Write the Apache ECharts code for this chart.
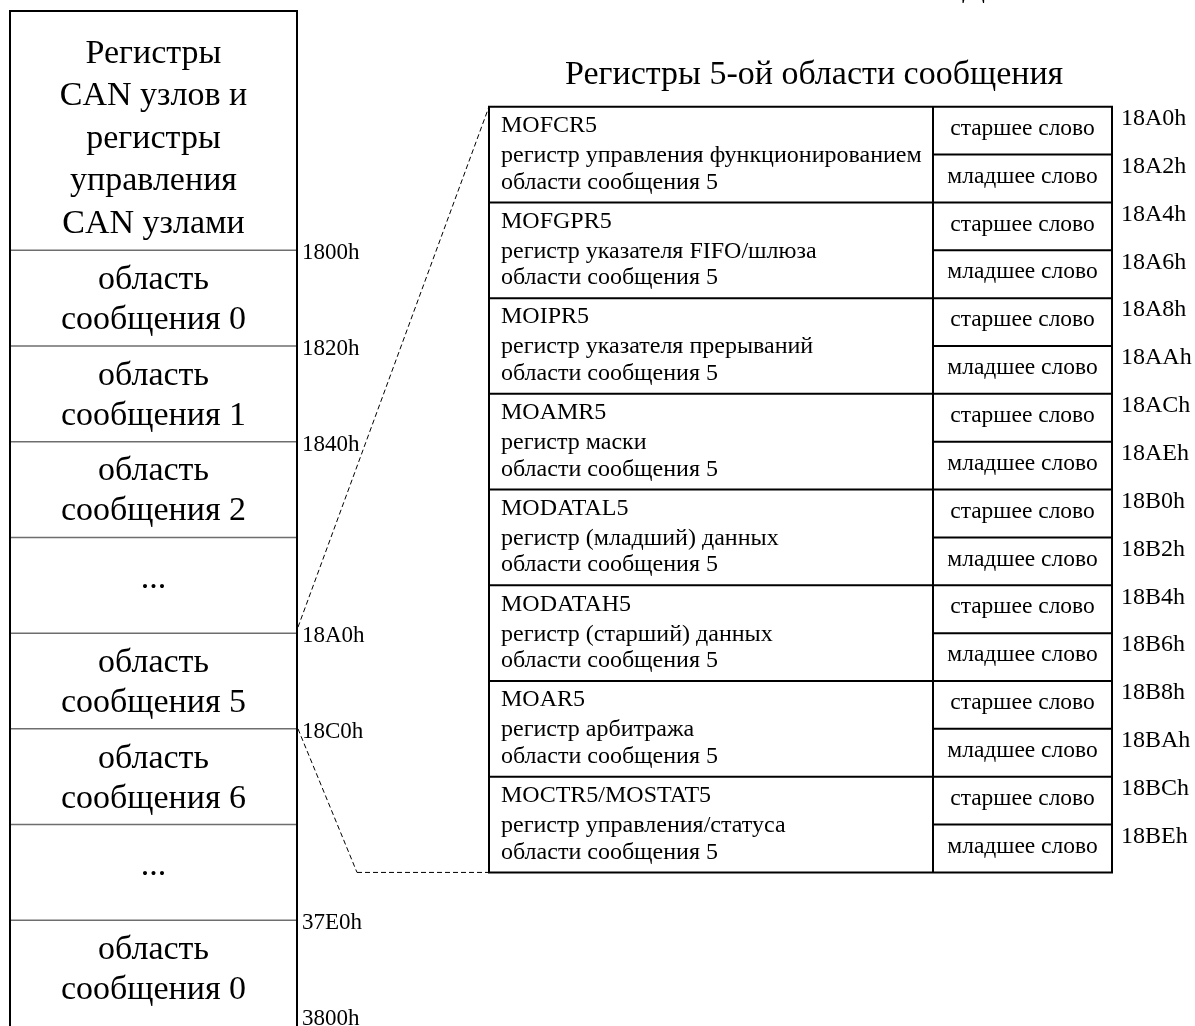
<!DOCTYPE html>
<html>
<head>
<meta charset="utf-8">
<script src="https://cdn.jsdelivr.net/npm/echarts@6/dist/echarts.min.js"></script>
<style>
html,body{margin:0;padding:0;background:#ffffff;}
#chart{width:1195px;height:1026px;}
</style>
</head>
<body>
<div id="chart"></div>
<script>
// ---------------- data ----------------
const titleText = 'Регистры 5-ой области сообщения';
const cutOffText = ['Д'];
const leftBlockLabels = [
  'Регистры\nCAN узлов и\nрегистры\nуправления\nCAN узлами',
  'область\nсообщения 0',
  'область\nсообщения 1',
  'область\nсообщения 2',
  '...',
  'область\nсообщения 5',
  'область\nсообщения 6',
  '...',
  'область\nсообщения 0'
];
const leftAddresses = ['1800h', '1820h', '1840h', '', '18A0h', '18C0h', '', '37E0h', '3800h'];
const registerNames = ['MOFCR5', 'MOFGPR5', 'MOIPR5', 'MOAMR5', 'MODATAL5', 'MODATAH5', 'MOAR5', 'MOCTR5/MOSTAT5'];
const registerDescriptions = [
  'регистр управления функционированием',
  'регистр указателя FIFO/шлюза',
  'регистр указателя прерываний',
  'регистр маски',
  'регистр (младший) данных',
  'регистр (старший) данных',
  'регистр арбитража',
  'регистр управления/статуса'
];
const registerArea = 'области сообщения 5';
const wordLabels = ['старшее слово', 'младшее слово'];
const rightAddresses = ['18A0h', '18A2h', '18A4h', '18A6h', '18A8h', '18AAh', '18ACh', '18AEh',
                        '18B0h', '18B2h', '18B4h', '18B6h', '18B8h', '18BAh', '18BCh', '18BEh'];
const zoomedAddress = '18A0h';
const zoomedEndAddress = '18C0h';

// ---------------- layout / style ----------------
const FONT = '"Liberation Serif", "Times New Roman", serif';
const L = {
  leftX0: 10, leftX1: 297,
  tabX0: 489, tabDiv: 933, tabX1: 1112,
  headerRows: 5, blockRows: 2, tableTopRow: 2, regRows: 2,
  bendX: 357
};
const BLACK = '#000000';
const GREY = '#6e6e6e';

function blockRange(i) {
  if (i === 0) return [0, L.headerRows];
  const s = L.headerRows + L.blockRows * (i - 1);
  return [s, s + L.blockRows];
}
function boundaryRowOf(addr) {
  return blockRange(leftAddresses.indexOf(addr))[1];
}

function line(x1, y1, x2, y2, color, w, dash) {
  return {
    type: 'line', silent: true,
    shape: { x1: x1, y1: y1, x2: x2, y2: y2 },
    style: { stroke: color, lineWidth: w, lineDash: dash || null }
  };
}
function text(t, x, y, size, align, lh) {
  return {
    type: 'text', silent: true,
    style: {
      text: t, x: x, y: y, fill: BLACK,
      fontSize: size, fontFamily: FONT,
      align: align, verticalAlign: 'middle',
      lineHeight: lh || Math.round(size * 1.2)
    }
  };
}

function renderLeft(params, api) {
  const i = api.value(0);
  const r = blockRange(i);
  const x0 = api.coord([L.leftX0, 0])[0];
  const x1 = api.coord([L.leftX1, 0])[0];
  const y0 = api.coord([0, r[0]])[1];
  const y1 = api.coord([0, r[1]])[1];
  const ch = [];
  const label = leftBlockLabels[i];
  const nLines = label.split('\n').length;
  let off;
  if (i === 0) off = 8;
  else if (nLines === 1) off = -6;
  else off = 2;
  ch.push(text(label, (x0 + x1) / 2, (y0 + y1) / 2 + off, 34, 'center', i === 0 ? 42.5 : 40));
  if (i === 0) {
    const yb = api.coord([0, 21.6])[1];
    ch.push(line(x0, y0, x1, y0, BLACK, 2));
    ch.push(line(x0, y0 - 1, x0, yb, BLACK, 2));
    ch.push(line(x1, y0 - 1, x1, yb, BLACK, 2));
  }
  if (i < leftBlockLabels.length - 1) {
    ch.push(line(x0 + 1, y1, x1 - 1, y1, GREY, 1.5));
  }
  if (leftAddresses[i]) {
    ch.push(text(leftAddresses[i], x1 + 5, y1 + 3, 23, 'left'));
  }
  return { type: 'group', children: ch };
}

function renderTable(params, api) {
  const i = api.value(0);
  const r0 = L.tableTopRow + L.regRows * i;
  const X0 = api.coord([L.tabX0, 0])[0];
  const XD = api.coord([L.tabDiv, 0])[0];
  const X1 = api.coord([L.tabX1, 0])[0];
  const Y0 = api.coord([0, r0])[1];
  const YM = api.coord([0, r0 + L.regRows / 2])[1];
  const Y1 = api.coord([0, r0 + L.regRows])[1];
  const ch = [];
  ch.push(line(X0 - 1, Y0, X1 + 1, Y0, BLACK, 2));
  if (i === registerNames.length - 1) ch.push(line(X0 - 1, Y1, X1 + 1, Y1, BLACK, 2));
  ch.push(line(X0, Y0, X0, Y1, BLACK, 2));
  ch.push(line(XD, Y0, XD, Y1, BLACK, 2));
  ch.push(line(X1, Y0, X1, Y1, BLACK, 2));
  ch.push(line(XD, YM, X1, YM, BLACK, 2));
  ch.push(text(registerNames[i], X0 + 12, Y0 + 19, 24, 'left'));
  ch.push(text(registerDescriptions[i], X0 + 12, Y0 + 49, 24, 'left'));
  ch.push(text(registerArea, X0 + 12, Y0 + 75.5, 24, 'left'));
  const xc = (XD + X1) / 2;
  ch.push(text(wordLabels[0], xc, (Y0 + YM) / 2 - 2, 23.5, 'center'));
  ch.push(text(wordLabels[1], xc, (YM + Y1) / 2 - 2, 23.5, 'center'));
  ch.push(text(rightAddresses[2 * i], X1 + 9, Y0 + 12, 24, 'left'));
  ch.push(text(rightAddresses[2 * i + 1], X1 + 9, YM + 12, 24, 'left'));
  return { type: 'group', children: ch };
}

function renderLinks(params, api) {
  const top = L.tableTopRow;
  const bottom = L.tableTopRow + L.regRows * registerNames.length;
  const a = api.coord([L.leftX1, boundaryRowOf(zoomedAddress)]);
  const b = api.coord([L.tabX0, top]);
  const c = api.coord([L.leftX1, boundaryRowOf(zoomedEndAddress)]);
  const d = api.coord([L.bendX, bottom]);
  const e = api.coord([L.tabX0, bottom]);
  const dash = [5, 3];
  return {
    type: 'group',
    children: [
      line(a[0] + 1, a[1] - 6, b[0], b[1], BLACK, 1, dash),
      line(c[0] + 1, c[1], d[0], d[1], BLACK, 1, dash),
      line(d[0], d[1], e[0], e[1], BLACK, 1, dash),
      {
        type: 'text', silent: true,
        style: { text: cutOffText[0], x: 962, y: 4, fill: BLACK, fontSize: 34, fontFamily: FONT,
                 align: 'left', verticalAlign: 'bottom' }
      }
    ]
  };
}

const chart = echarts.init(document.getElementById('chart'), null, { renderer: 'canvas' });
chart.setOption({
  animation: false,
  backgroundColor: '#ffffff',
  title: {
    text: titleText, left: 565, top: 58, padding: 0,
    textStyle: { fontSize: 34, fontFamily: FONT, fontWeight: 'normal', color: BLACK, lineHeight: 34 }
  },
  grid: { left: 0, top: 11, width: 1195, height: 1005 },
  xAxis: { type: 'value', min: 0, max: 1195, show: false },
  yAxis: { type: 'value', min: 0, max: 21, inverse: true, show: false },
  series: [
    { type: 'custom', name: 'memory', clip: false, renderItem: renderLeft,
      data: leftBlockLabels.map((_, i) => [i, 0]) },
    { type: 'custom', name: 'registers', clip: false, renderItem: renderTable,
      data: registerNames.map((_, i) => [i, 0]) },
    { type: 'custom', name: 'links', clip: false, renderItem: renderLinks, data: [[0, 0]] }
  ]
});
</script>
</body>
</html>
